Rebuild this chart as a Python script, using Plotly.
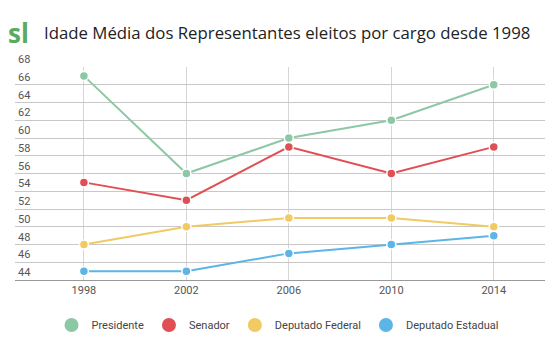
import plotly.graph_objects as go

years = ["1998", "2002", "2006", "2010", "2014"]
presidente = [67, 56, 60, 62, 66]
senador = [55, 53, 59, 56, 59]
dep_federal = [48, 50, 51, 51, 50]
dep_estadual = [45, 45, 47, 48, 49]
y_ticks = list(range(44, 69, 2))

series = [
    ("Presidente", presidente, "#8dc8a5"),
    ("Senador", senador, "#e04f53"),
    ("Deputado Federal", dep_federal, "#f2ca63"),
    ("Deputado Estadual", dep_estadual, "#5bb5e6"),
]

fig = go.Figure()
for name, vals, col in series:
    fig.add_trace(go.Scatter(
        x=years, y=vals, name=name, mode="lines+markers", showlegend=False,
        line=dict(color=col, width=2),
        marker=dict(color=col, size=9, line=dict(color="white", width=1.5)),
    ))
for name, vals, col in series:
    fig.add_trace(go.Scatter(
        x=[None], y=[None], name=name, mode="markers", showlegend=True,
        marker=dict(color=col, size=14),
    ))

W, H = 555, 340
l, r, t, b = 15, 10, 67, 60
PW, PH = W - l - r, H - t - b


def px(xp):
    return (xp - l) / PW


def py(yp):
    return (H - b - yp) / PH


fig.update_layout(
    width=W, height=H,
    margin=dict(l=l, r=r, t=t, b=b, autoexpand=False),
    plot_bgcolor="white", paper_bgcolor="white",
    font=dict(family="Roboto", size=11, color="#555555"),
    showlegend=True,
    legend=dict(orientation="h", x=0.5, xanchor="center", xref="container",
                y=(H - 325) / H, yanchor="middle", yref="container",
                font=dict(family="Roboto", size=11, color="#444444"),
                itemsizing="trace", itemwidth=30),
    xaxis=dict(type="category", range=[-0.6725, 4.5], showgrid=True,
               gridcolor="#d6d6d6", gridwidth=1, showline=True, linecolor="#999999",
               ticks="", tickfont=dict(size=11, color="#555555"), zeroline=False),
    yaxis=dict(range=[44, 68], tickvals=y_ticks, showgrid=True, gridcolor="#c8c8c8",
               gridwidth=1, ticklabelposition="inside top", ticklabeloverflow="allow",
               zeroline=False, tickfont=dict(size=11, color="#555555"), ticks=""),
    annotations=[
        dict(text="<b>sl</b>", x=px(6), y=py(33), xref="paper", yref="paper",
             showarrow=False, xanchor="left", yanchor="middle",
             font=dict(family="Open Sans", size=26, color="#5aaa5f")),
        dict(text="Idade Média dos Representantes eleitos por cargo desde 1998",
             x=px(42), y=py(33), xref="paper", yref="paper",
             showarrow=False, xanchor="left", yanchor="middle",
             font=dict(family="Open Sans", size=16.8, color="#222222")),
    ],
)

fig.write_html("out.html")
